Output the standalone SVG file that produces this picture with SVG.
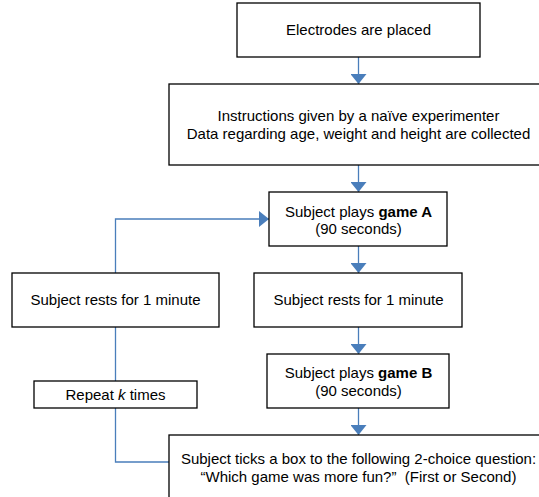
<svg xmlns="http://www.w3.org/2000/svg" width="539" height="497" viewBox="0 0 539 497">
<style>
.box{fill:#fff;stroke:#000;stroke-width:1.3}
.t{font-family:"Liberation Sans",Arial,sans-serif;font-size:15px;fill:#000;text-anchor:middle}
.c{fill:none;stroke:#4a7ebb;stroke-width:1.3}
</style>
<defs>
<marker id="ah" viewBox="0 0 10 16" refX="10" refY="8" markerWidth="10" markerHeight="16" markerUnits="userSpaceOnUse" orient="auto">
<path d="M0,0 L10,8 L0,16 z" fill="#4a7ebb"/>
</marker>
</defs>
<g id="connectors">
<line class="c" x1="358.5" y1="57" x2="358.5" y2="84" marker-end="url(#ah)"/>
<line class="c" x1="358.5" y1="165" x2="358.5" y2="192" marker-end="url(#ah)"/>
<line class="c" x1="358.5" y1="246" x2="358.5" y2="273" marker-end="url(#ah)"/>
<line class="c" x1="358.5" y1="327" x2="358.5" y2="354" marker-end="url(#ah)"/>
<line class="c" x1="358.5" y1="408" x2="358.5" y2="435" marker-end="url(#ah)"/>
<polyline class="c" points="169,462 115.5,462 115.5,219 269,219" marker-end="url(#ah)"/>
</g>
<g id="electrodes"><rect class="box" x="237" y="3" width="243" height="54"/><text class="t" x="358.5" y="35">Electrodes are placed</text></g>
<g id="instructions"><rect class="box" x="169" y="84" width="380" height="81"/><text class="t" x="358.5" y="120.5">Instructions given by a naïve experimenter</text><text class="t" x="358.5" y="138.5">Data regarding age, weight and height are collected</text></g>
<g id="gameA"><rect class="box" x="269" y="192" width="178" height="54"/><text class="t" x="358.5" y="216.5"><tspan>Subject plays </tspan><tspan font-weight="bold">game A</tspan></text><text class="t" x="358.5" y="234">(90 seconds)</text></g>
<g id="restLeft"><rect class="box" x="12" y="273" width="207" height="54"/><text class="t" x="115.5" y="305">Subject rests for 1 minute</text></g>
<g id="restRight"><rect class="box" x="254" y="273" width="208" height="54"/><text class="t" x="358.5" y="305">Subject rests for 1 minute</text></g>
<g id="repeat"><rect class="box" x="34" y="381" width="163" height="27"/><text class="t" x="115.5" y="399.5">Repeat <tspan font-style="italic">k</tspan> times</text></g>
<g id="gameB"><rect class="box" x="267" y="354" width="182" height="54"/><text class="t" x="358.5" y="377.5"><tspan>Subject plays </tspan><tspan font-weight="bold">game B</tspan></text><text class="t" x="358.5" y="396">(90 seconds)</text></g>
<g id="question"><rect class="box" x="169" y="435" width="380" height="70"/><text class="t" x="358.5" y="463.5">Subject ticks a box to the following 2-choice question:</text><text class="t" x="358.5" y="481.5" xml:space="preserve">“Which game was more fun?”  (First or Second)</text></g>
</svg>
